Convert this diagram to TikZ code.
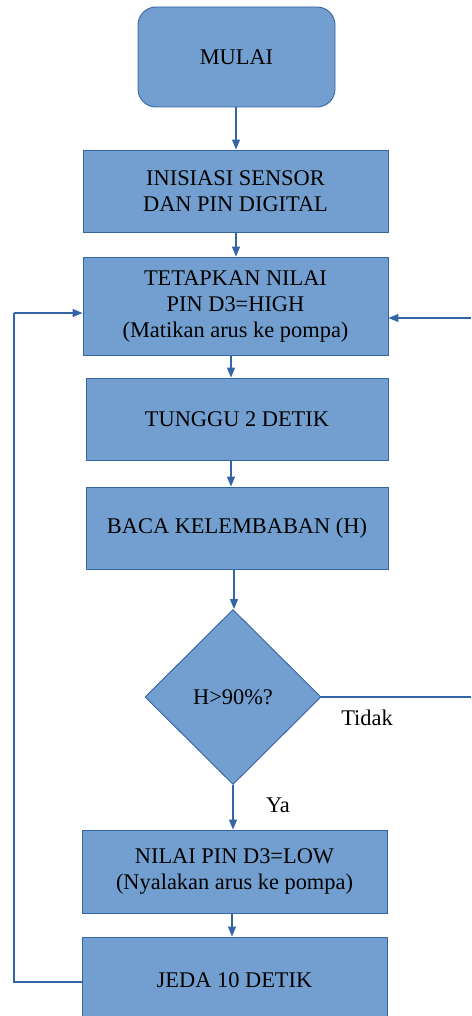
\documentclass[tikz,border=0pt]{standalone}
\usepackage{fontspec}
\setmainfont{Liberation Serif}
\usetikzlibrary{shapes.geometric,arrows.meta}
\definecolor{boxfill}{HTML}{729FCF}
\definecolor{boxline}{HTML}{3465A4}
\begin{document}
\begin{tikzpicture}[x=1pt,y=1pt,
  every node/.style={font=\fontsize{22.4}{26}\selectfont, text=black},
  procbox/.style={rectangle, draw=boxline, fill=boxfill, line width=0.9pt, align=center, inner sep=0pt},
  startbox/.style={procbox, rounded corners=18pt},
  decbox/.style={diamond, aspect=1, draw=boxline, fill=boxfill, line width=0.9pt, inner sep=0pt, minimum width=176pt, minimum height=175pt},
  conn/.style={draw=boxline, line width=1.1pt},
  arr/.style={conn, -{Triangle[length=10pt,width=8pt]}},
  lbl/.style={inner sep=0pt}
]
\clip (0,0) rectangle (471,-1016);
\node[startbox, minimum width=197pt, minimum height=100pt] (mulai) at (236.5,-57) {MULAI};
\node[procbox, minimum width=305pt, minimum height=82pt] (init) at (235.5,-191) {INISIASI SENSOR\\DAN PIN DIGITAL};
\node[procbox, minimum width=305pt, minimum height=98pt] (tetap) at (235.5,-306) {TETAPKAN NILAI\\PIN D3=HIGH\\(Matikan arus ke pompa)};
\node[procbox, minimum width=302pt, minimum height=82pt] (tunggu) at (237,-419) {TUNGGU 2 DETIK};
\node[procbox, minimum width=302pt, minimum height=82pt] (baca) at (237,-528) {BACA KELEMBABAN (H)};
\node[decbox] (dec) at (233,-697) {H>90\%?};
\node[procbox, minimum width=305pt, minimum height=83pt] (nilai) at (234.5,-871.5) {NILAI PIN D3=LOW\\(Nyalakan arus ke pompa)};
\node[procbox, minimum width=305pt, minimum height=86pt] (jeda) at (234.5,-980) {JEDA 10 DETIK};

\node[lbl] (tidak) at (367,-718) {Tidak};
\node[lbl] (ya) at (278,-805) {Ya};

\coordinate (rightedge) at (471,-697);
\coordinate (rightin) at (471,-318);
\coordinate (leftcorner) at (14,-982);
\coordinate (leftup) at (14,-313);

\draw[arr] ([xshift=-0.5pt]mulai.south) -- ([xshift=-0.5pt]mulai.south |- init.north);
\draw[arr] ([xshift=0.5pt]init.south) -- ([xshift=0.5pt]init.south |- tetap.north);
\draw[arr] ([xshift=-4.5pt]tetap.south) -- ([xshift=-4.5pt]tetap.south |- tunggu.north);
\draw[arr] ([xshift=-6pt]tunggu.south) -- ([xshift=-6pt]tunggu.south |- baca.north);
\draw[arr] ([xshift=-3pt]baca.south) -- ([xshift=-3pt]baca.south |- dec.north);
\draw[arr] (dec.south) -- (dec.south |- nilai.north);
\draw[arr] ([xshift=-2.5pt]nilai.south) -- ([xshift=-2.5pt]nilai.south |- jeda.north);
\draw[conn] (dec.east) -- (rightedge);
\draw[arr] (rightin) -- (rightin -| tetap.east);
\draw[conn] (jeda.west |- leftcorner) -- (leftcorner) -- (leftup);
\draw[arr] (leftup) -- (leftup -| tetap.west);
\end{tikzpicture}
\end{document}
